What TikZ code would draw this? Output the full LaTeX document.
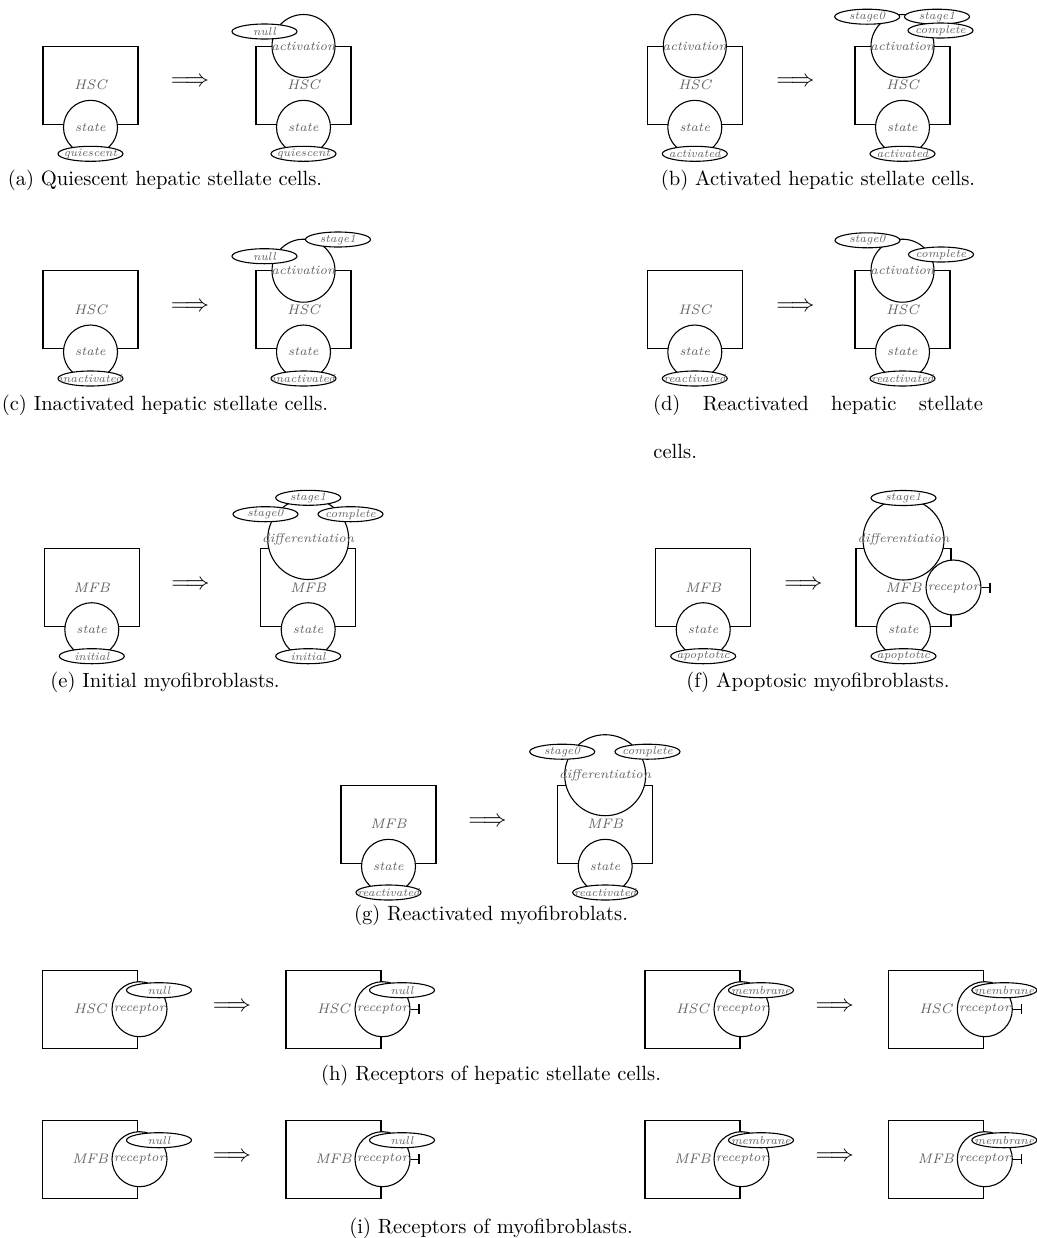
\documentclass[tikz,border=0pt]{standalone}
\usetikzlibrary{arrows.meta,shapes.geometric}
\newcommand\zb[1]{\makebox[0pt]{#1}}
\begin{document}
\begin{tikzpicture}[x=0.5pt,y=-0.5pt,
  lw/.style={line width=0.55pt},
  cell/.style={draw, lw, rectangle, minimum width=47.5pt, minimum height=39pt, inner sep=0pt, text=black!62, font=\fontsize{6.9}{7}\selectfont\itshape},
  comp/.style={draw, lw, circle, fill=white, inner sep=0pt, text=black!62, font=\fontsize{6.3}{7}\selectfont\itshape},
  smallc/.style={comp, minimum size=27pt},
  recc/.style={comp, minimum size=27.5pt},
  actc/.style={comp, minimum size=31.5pt},
  diffc/.style={comp, minimum size=40.5pt},
  val/.style={draw, lw, ellipse, fill=white, minimum width=32.5pt, minimum height=7.5pt, inner sep=0pt, text=black!62, font=\fontsize{5.7}{6}\selectfont\itshape},
  impl/.style={inner sep=0pt, font=\fontsize{12}{12}\selectfont},
  captext/.style={inner sep=0pt, anchor=base, font=\fontsize{10.3}{12}\selectfont},
  rtip/.style={lw, -{Bar[width=5pt,line width=0.55pt]}},
  ]
\useasboundingbox (0,0) rectangle (1037,1238);

% ---------- (a)
\node[cell] (a1) at (90.5,85.2) {HSC};
\node[smallc] (a1s) at (90.5,127.3) {\zb{state}};
\node[val] (a1v) at (90.5,153.8) {\zb{quiescent}};
\node[impl] (aar) at (190,82) {$\Longrightarrow$};
\node[cell] (a2) at (303.5,85.2) {HSC};
\node[actc] (a2a) at (303.5,46) {\zb{activation}};
\node[smallc] (a2s) at (303.5,127.3) {\zb{state}};
\node[val] (a2n) at (264.5,31.5) {\zb{null}};
\node[val] (a2v) at (303.5,153.8) {\zb{quiescent}};
\node[captext] (acap) at (165,185) {(a) Quiescent hepatic stellate cells.};

% ---------- (b)
\node[cell] (b1) at (694.8,85.2) {HSC};
\node[actc] (b1a) at (694.8,46) {\zb{activation}};
\node[smallc] (b1s) at (694.8,127.3) {\zb{state}};
\node[val] (b1v) at (694.8,153.8) {\zb{activated}};
\node[impl] (bar) at (795.5,82) {$\Longrightarrow$};
\node[cell] (b2) at (902.5,85.2) {HSC};
\node[actc] (b2a) at (902.5,46) {\zb{activation}};
\node[smallc] (b2s) at (902.5,127.3) {\zb{state}};
\node[val] (b2x) at (867.2,16.7) {\zb{stage0}};
\node[val] (b2y) at (937,16.7) {\zb{stage1}};
\node[val] (b2z) at (940.5,30.5) {\zb{complete}};
\node[val] (b2v) at (902.5,153.8) {\zb{activated}};
\node[captext] (bcap) at (818,185) {(b) Activated hepatic stellate cells.};

% ---------- (c)
\node[cell] (c1) at (90.5,309.9) {HSC};
\node[smallc] (c1s) at (90.5,352) {\zb{state}};
\node[val] (c1v) at (90.5,378.5) {\zb{inactivated}};
\node[impl] (car) at (190,306.7) {$\Longrightarrow$};
\node[cell] (c2) at (303.5,309.9) {HSC};
\node[actc] (c2a) at (303.5,270.7) {\zb{activation}};
\node[smallc] (c2s) at (303.5,352) {\zb{state}};
\node[val] (c2n) at (264.5,256.2) {\zb{null}};
\node[val] (c2y) at (338,239.5) {\zb{stage1}};
\node[val] (c2v) at (303.5,378.5) {\zb{inactivated}};
\node[captext] (ccap) at (165,410) {(c) Inactivated hepatic stellate cells.};

% ---------- (d)
\node[cell] (d1) at (694.8,309.9) {HSC};
\node[smallc] (d1s) at (694.8,352) {\zb{state}};
\node[val] (d1v) at (694.8,378.5) {\zb{reactivated}};
\node[impl] (dar) at (795.5,306.7) {$\Longrightarrow$};
\node[cell] (d2) at (902.5,309.9) {HSC};
\node[actc] (d2a) at (902.5,270.7) {\zb{activation}};
\node[smallc] (d2s) at (902.5,352) {\zb{state}};
\node[val] (d2x) at (867.5,240.3) {\zb{stage0}};
\node[val] (d2z) at (941,254.5) {\zb{complete}};
\node[val] (d2v) at (902.5,378.5) {\zb{reactivated}};
\node[captext] (dcap) at (818,410) {\makebox[165pt][s]{(d) Reactivated hepatic stellate}};
\node[captext, anchor=base west] (dcap2) at (653,458) {cells.};

% ---------- (e)
\node[cell] (e1) at (91.8,587.5) {MFB};
\node[smallc] (e1s) at (91.8,629.7) {\zb{state}};
\node[val] (e1v) at (91.8,656.2) {\zb{initial}};
\node[impl] (ear) at (190.5,585) {$\Longrightarrow$};
\node[cell] (e2) at (308.2,587.5) {MFB};
\node[diffc] (e2d) at (308.2,539) {\zb{differentiation}};
\node[smallc] (e2s) at (308.2,629.7) {\zb{state}};
\node[val] (e2y) at (308.2,497.8) {\zb{stage1}};
\node[val] (e2x) at (265.5,514.2) {\zb{stage0}};
\node[val] (e2z) at (350.5,514.2) {\zb{complete}};
\node[val] (e2v) at (308.2,656.2) {\zb{initial}};
\node[captext] (ecap) at (165,687) {(e) Initial myofibroblasts.};

% ---------- (f)
\node[cell] (f1) at (703.2,587.5) {MFB};
\node[smallc] (f1s) at (703.2,629.7) {\zb{state}};
\node[val] (f1v) at (703.2,656.2) {\zb{apoptotic}};
\node[impl] (far) at (803.5,585) {$\Longrightarrow$};
\node[cell] (f2) at (903.5,587.5) {MFB};
\node[diffc] (f2d) at (903.5,539.5) {\zb{differentiation}};
\node[recc] (f2r) at (953.5,587.5) {\zb{receptor}};
\coordinate (f2t) at (990.5,587.5);
\draw[rtip] (f2r) -- (f2t);
\node[smallc] (f2s) at (903.5,629.7) {\zb{state}};
\node[val] (f2y) at (903.5,498) {\zb{stage1}};
\node[val] (f2v) at (903.5,656.2) {\zb{apoptotic}};
\node[captext] (fcap) at (818,687) {(f) Apoptosic myofibroblasts.};

% ---------- (g)
\node[cell] (g1) at (388.5,824.2) {MFB};
\node[smallc] (g1s) at (388.5,866.3) {\zb{state}};
\node[val] (g1v) at (388.5,892.5) {\zb{reactivated}};
\node[impl] (gar) at (487.5,821.7) {$\Longrightarrow$};
\node[cell] (g2) at (605.2,824.2) {MFB};
\node[diffc] (g2d) at (605.2,775.2) {\zb{differentiation}};
\node[smallc] (g2s) at (605.2,866.3) {\zb{state}};
\node[val] (g2x) at (562.2,751.7) {\zb{stage0}};
\node[val] (g2z) at (647.5,751.7) {\zb{complete}};
\node[val] (g2v) at (605.2,892.5) {\zb{reactivated}};
\node[captext] (gcap) at (491,920) {(g) Reactivated myofibroblats.};

% ---------- (h)
\node[cell] (h1) at (90.2,1009.2) {HSC};
\node[recc] (h1r) at (139.5,1009.2) {\zb{receptor}};
\node[val] (h1n) at (159,990.2) {\zb{null}};
\node[impl] (har) at (232,1006.7) {$\Longrightarrow$};
\node[cell] (h2) at (333.5,1009.2) {HSC};
\node[recc] (h2r) at (382.5,1009.2) {\zb{receptor}};
\coordinate (h2t) at (419.5,1009.2);
\draw[rtip] (h2r) -- (h2t);
\node[val] (h2n) at (402,990.2) {\zb{null}};

\node[cell] (h3) at (692.5,1009.2) {HSC};
\node[recc] (h3r) at (741.5,1009.2) {\zb{receptor}};
\node[val] (h3m) at (761,990.2) {\zb{membrane}};
\node[impl] (hbr) at (834.7,1006.7) {$\Longrightarrow$};
\node[cell] (h4) at (935.8,1009.2) {HSC};
\node[recc] (h4r) at (984.8,1009.2) {\zb{receptor}};
\coordinate (h4t) at (1021.8,1009.2);
\draw[rtip] (h4r) -- (h4t);
\node[val] (h4m) at (1004.3,990.2) {\zb{membrane}};
\node[captext] (hcap) at (491,1080) {(h) Receptors of hepatic stellate cells.};

% ---------- (i)
\node[cell] (i1) at (90.2,1159.2) {MFB};
\node[recc] (i1r) at (139.5,1159.2) {\zb{receptor}};
\node[val] (i1n) at (159,1140.2) {\zb{null}};
\node[impl] (iar) at (232,1156.7) {$\Longrightarrow$};
\node[cell] (i2) at (333.5,1159.2) {MFB};
\node[recc] (i2r) at (382.5,1159.2) {\zb{receptor}};
\coordinate (i2t) at (419.5,1159.2);
\draw[rtip] (i2r) -- (i2t);
\node[val] (i2n) at (402,1140.2) {\zb{null}};

\node[cell] (i3) at (692.5,1159.2) {MFB};
\node[recc] (i3r) at (741.5,1159.2) {\zb{receptor}};
\node[val] (i3m) at (761,1140.2) {\zb{membrane}};
\node[impl] (ibr) at (834.7,1156.7) {$\Longrightarrow$};
\node[cell] (i4) at (935.8,1159.2) {MFB};
\node[recc] (i4r) at (984.8,1159.2) {\zb{receptor}};
\coordinate (i4t) at (1021.8,1159.2);
\draw[rtip] (i4r) -- (i4t);
\node[val] (i4m) at (1004.3,1140.2) {\zb{membrane}};
\node[captext] (icap) at (491,1233) {(i) Receptors of myofibroblasts.};
\end{tikzpicture}
\end{document}
